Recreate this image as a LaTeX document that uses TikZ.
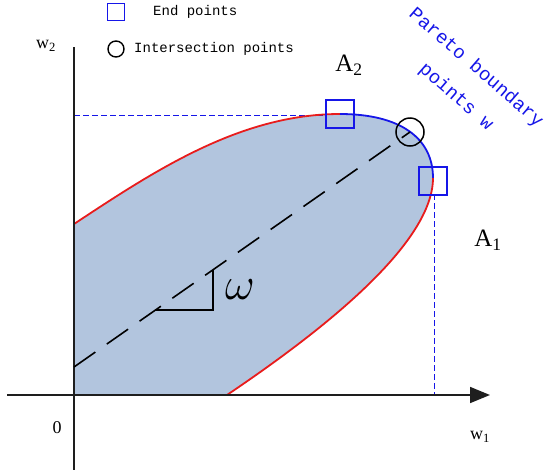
\RequirePackage{fix-cm}
\documentclass[tikz,border=0pt]{standalone}
\usepackage{fontspec}
\setmainfont{Liberation Serif}
\newfontfamily\monofont{Liberation Mono}
\usetikzlibrary{arrows.meta}
\definecolor{regfill}{RGB}{178,197,222}
\definecolor{bndred}{RGB}{232,28,28}
\definecolor{ptblue}{RGB}{22,22,232}
\definecolor{axisgray}{RGB}{30,30,30}
\tikzset{
  axisline/.style={draw=axisgray, line width=1.7pt},
  endbox/.style={draw=ptblue, line width=1.6pt, minimum size=28pt, inner sep=0pt},
  interc/.style={circle, draw=black, line width=1.5pt, minimum size=28pt, inner sep=0pt},
  guide/.style={draw=ptblue, line width=1pt, dash pattern=on 6pt off 3pt},
  bndline/.style={line width=1.8pt},
  lbl/.style={inner sep=0pt, font=\fontsize{18}{18}\selectfont},
  biglbl/.style={inner sep=0pt, font=\fontsize{25}{25}\selectfont},
  legtxt/.style={inner sep=0pt, anchor=west, font=\monofont\fontsize{14}{14}\selectfont},
  paretotxt/.style={inner sep=0pt, rotate=-41, text=ptblue, font=\monofont\fontsize{19}{20}\selectfont}
}
\begin{document}
\begin{tikzpicture}[x=1pt,y=-1pt]
\useasboundingbox (0,0) rectangle (547,472);
\coordinate (o) at (74,395);
\coordinate (b0) at (74,224);
\coordinate (b1) at (340,114);
\coordinate (b2) at (433,178);
\coordinate (b3) at (227,395);
% region
\fill[regfill] (o) -- (b0) .. controls (154,171.2) and (240,114) .. (b1)
  .. controls (400,114) and (433,138) .. (b2)
  .. controls (433,248) and (307,341) .. (b3) -- cycle;
% guides
\draw[guide] (74,115) -- (327,115);
\draw[guide] (434,194) -- (434,395);
% boundary
\draw[bndline, bndred] (b0) .. controls (154,171.2) and (240,114) .. (b1);
\draw[bndline, ptblue] (b1) .. controls (400,114) and (433,138) .. (b2);
\draw[bndline, bndred] (b2) .. controls (433,248) and (307,341) .. (b3);
% axes
\coordinate (xs) at (7,395);
\coordinate (xe) at (490,395);
\coordinate (ys) at (74,47);
\coordinate (ye) at (74,470);
\draw[axisline, -{Triangle[length=20pt,width=16pt]}] (xs) -- (xe);
\draw[axisline] (ys) -- (ye);
% dashed line and angle
\coordinate (L0) at (74,367);
\coordinate (L1) at (410,132);
\draw[black, line width=1.6pt, dash pattern=on 26pt off 14pt] (L0) -- (L1);
\coordinate (ra) at (156,310);
\coordinate (rb) at (213,310);
\coordinate (rc) at (213,270);
\draw[black, line width=1.1pt] (ra) -- (rb) -- (rc);
\node[inner sep=0pt, font=\fontsize{46}{46}\selectfont] (om) at (240,290) {$\omega$};
% markers
\node[endbox] (e1) at (340,114) {};
\node[endbox] (e2) at (433,181) {};
\node[interc] (c1) at (410,132) {};
% legend
\node[endbox, minimum size=17pt] (lsq) at (116,12) {};
\node[legtxt] (lt1) at (153,12) {End points};
\node[circle, draw=black, line width=1.4pt, minimum size=16pt, inner sep=0pt] (lci) at (116,49) {};
\node[legtxt] (lt2) at (134,49) {Intersection points};
% labels
\node[lbl] (w2) at (46,46) {w\textsubscript{2}};
\node[lbl] (w1) at (480,437) {w\textsubscript{1}};
\node[lbl] (zero) at (57,428) {0};
\node[biglbl] (a2) at (349,65) {A\textsubscript{2}};
\node[biglbl] (a1) at (488,240) {A\textsubscript{1}};
\node[paretotxt] (p1) at (476,68) {Pareto boundary};
\node[paretotxt] (p2) at (456,97) {points w};
\end{tikzpicture}
\end{document}
